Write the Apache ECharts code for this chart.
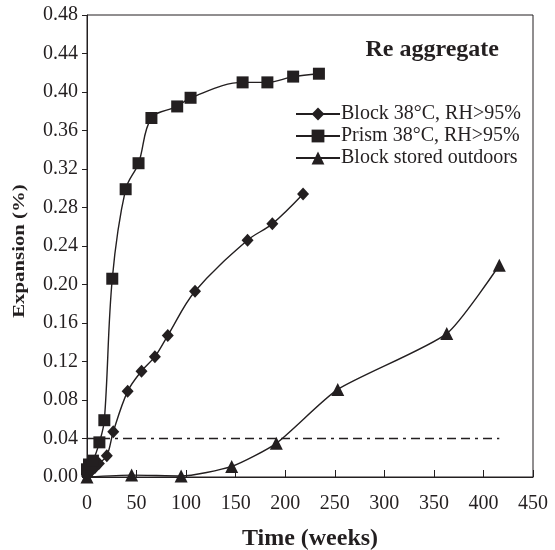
<!DOCTYPE html>
<html>
<head>
<meta charset="utf-8">
<script src="https://cdn.jsdelivr.net/npm/echarts@6/dist/echarts.min.js"></script>
<style>html,body{margin:0;padding:0;background:#fff}#c{width:555px;height:550px}</style>
</head>
<body>
<div id="c"></div>
<script>
// Data (weeks, expansion %)
const blockData = [[0,0.001],[4,0.006],[8,0.010],[12,0.014],[20,0.022],[26.5,0.047],[41,0.089],[55,0.110],[68.5,0.125],[81.5,0.147],[109,0.193],[162,0.246],[187,0.263],[218,0.294]];
const prismData = [[0,0.008],[2,0.013],[6,0.017],[12.5,0.036],[17.5,0.059],[25.5,0.206],[39,0.299],[52,0.326],[65,0.373],[91,0.385],[104.5,0.394],[157,0.410],[182,0.410],[208,0.416],[234,0.419]];
const outdoorData = [[0,0.000],[45,0.002],[95,0.001],[146,0.011],[191,0.035],[253,0.091],[363,0.149],[416,0.220]];
const limitData = [[0,0.04],[416,0.04]];
const seriesNames = ['Block 38°C, RH>95%','Prism 38°C, RH>95%','Block stored outdoors'];
const xTicks = {min:0, max:450, interval:50};
const yTicks = {min:0, max:0.48, interval:0.04};
const titleText = 'Re aggregate';
const xName = 'Time (weeks)';
const yName = 'Expansion (%)';

const ink = '#231f20';
const font = 'Liberation Serif, Times New Roman, serif';
const chart = echarts.init(document.getElementById('c'), null, {renderer:'canvas'});
function lineSeries(name, data, symbol, size, smooth){
  return {name, type:'line', data, symbol, symbolSize:size, smooth:smooth,
    itemStyle:{color:ink}, lineStyle:{color:ink, width:1.4}, z:3};
}
chart.setOption({
  animation:false,
  backgroundColor:'#fff',
  grid:{left:87, right:22, top:15, bottom:73, containLabel:false, outerBoundsMode:'none',
    show:true, borderColor:ink, borderWidth:1, backgroundColor:'transparent'},
  title:{text:titleText, right:51, top:33, textStyle:{fontFamily:font, fontSize:24, fontWeight:'bold', color:ink}},
  legend:{data:seriesNames, orient:'vertical', left:290, top:99, itemWidth:44, itemHeight:16, itemGap:2,
    textStyle:{fontFamily:font, fontSize:20, color:ink, padding:[0,0,0,-4]}},
  graphic:[{type:'text', x:20, y:251, rotation:Math.PI/2, scaleX:1.3,
    style:{text:yName, font:'bold 16px ' + font, fill:ink, textAlign:'center', textVerticalAlign:'middle'}}],
  xAxis:{type:'value', min:xTicks.min, max:xTicks.max, interval:xTicks.interval,
    name:xName, nameLocation:'middle', nameGap:50,
    nameTextStyle:{fontFamily:font, fontSize:24, fontWeight:'bold', color:ink},
    axisLine:{lineStyle:{color:ink, width:1}}, axisTick:{inside:true, length:7, lineStyle:{color:ink}},
    axisLabel:{fontFamily:font, fontSize:20, color:ink, margin:17}, splitLine:{show:false}},
  yAxis:{type:'value', min:yTicks.min, max:yTicks.max, interval:yTicks.interval,
    axisLine:{show:true, lineStyle:{color:ink, width:1}}, axisTick:{show:true, length:5, lineStyle:{color:ink}},
    axisLabel:{fontFamily:font, fontSize:20, color:ink, margin:9, formatter:v=>v.toFixed(2)}, splitLine:{show:false}},
  series:[
    lineSeries(seriesNames[0], blockData, 'diamond', [12,13], 0.35),
    lineSeries(seriesNames[1], prismData, 'rect', 12, 0.35),
    lineSeries(seriesNames[2], outdoorData, 'triangle', 13, 0.2),
    {name:'limit', type:'line', data:limitData, symbol:'none', silent:true,
      lineStyle:{color:ink, width:1.5, type:[9,5,9,5,3,5]}, z:2}
  ]
});
</script>
</body>
</html>
